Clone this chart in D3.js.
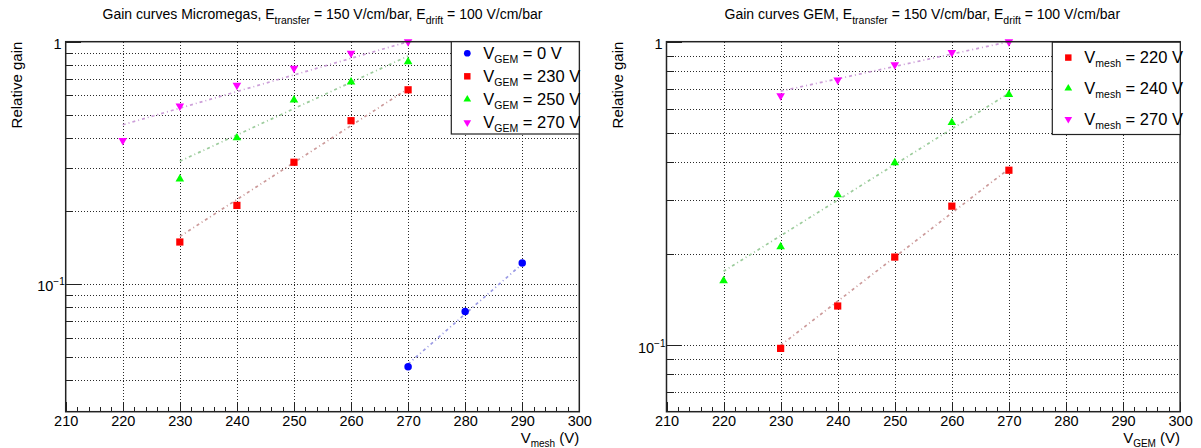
<!DOCTYPE html>
<html>
<head>
<meta charset="utf-8">
<script src="https://cdn.jsdelivr.net/npm/d3@7"></script>
<style>
  body { margin: 0; background: #fff; }
  text { font-family: "Liberation Sans", Arial, sans-serif; fill: #000; white-space: pre; }
</style>
</head>
<body>
<svg id="chart"></svg>
<script>
var W = 1201, H = 448;

// x axis (both pads)
var xDomain = [210, 300];
var xMajorTicks = [210, 220, 230, 240, 250, 260, 270, 280, 290, 300];

// left pad: Micromegas gain vs V_mesh, one series per V_GEM
var mmLegend = ["0 V", "230 V", "250 V", "270 V"];
var mmX0 = [270, 280, 290];
var mmGain0 = [0.0455, 0.0769, 0.122];
var mmX230 = [230, 240, 250, 260, 270];
var mmGain230 = [0.149, 0.211, 0.318, 0.472, 0.633];
var mmX250 = [230, 240, 250, 260, 270];
var mmGain250 = [0.271, 0.401, 0.575, 0.682, 0.827];
var mmX270 = [220, 230, 240, 250, 260, 270];
var mmGain270 = [0.391, 0.543, 0.661, 0.777, 0.896, 1.0];
// fitted exponentials, value at first and last point
var mmFit0 = [0.0467, 0.121];
var mmFit230 = [0.157, 0.64];
var mmFit250 = [0.321, 0.873];
var mmFit270 = [0.454, 1.0];

// right pad: GEM gain vs V_GEM, one series per V_mesh
var gemLegend = ["220 V", "240 V", "270 V"];
var gemX220 = [230, 240, 250, 260, 270];
var gemGain220 = [0.0975, 0.1345, 0.195, 0.287, 0.377];
var gemX240 = [220, 230, 240, 250, 260, 270];
var gemGain240 = [0.163, 0.211, 0.313, 0.399, 0.541, 0.67];
var gemX270 = [230, 240, 250, 260, 270];
var gemGain270 = [0.663, 0.748, 0.839, 0.921, 1.0];
var gemFit220 = [0.0998, 0.381];
var gemFit240 = [0.175, 0.676];
var gemFit270 = [0.687, 1.0];

var svg = d3.select("#chart").attr("width", W).attr("height", H);

var panels = [
  {
    offset: 0,
    yMin: 0.0297,
    title: [["Gain curves Micromegas, E"], ["transfer", "sub"], [" = 150 V/cm/bar, E"], ["drift", "sub"], [" = 100 V/cm/bar"]],
    titleX: 322.5,
    xSub: "mesh",
    legSub: "GEM",
    legend: mmLegend,
    legendBox: [451.3, 41.7, 128, 92.3],
    series: [
      { x: mmX0, y: mmGain0, fit: mmFit0, shape: "circle", color: "#0000ff", fitColor: "#9a9ae4" },
      { x: mmX230, y: mmGain230, fit: mmFit230, shape: "square", color: "#ff0000", fitColor: "#cc9a9a" },
      { x: mmX250, y: mmGain250, fit: mmFit250, shape: "up", color: "#00ff00", fitColor: "#9ccc9c" },
      { x: mmX270, y: mmGain270, fit: mmFit270, shape: "down", color: "#ff00ff", fitColor: "#cc9ed8" }
    ]
  },
  {
    offset: 600.8,
    yMin: 0.0603,
    title: [["Gain curves GEM, E"], ["transfer", "sub"], [" = 150 V/cm/bar, E"], ["drift", "sub"], [" = 100 V/cm/bar"]],
    titleX: 321.5,
    xSub: "GEM",
    legSub: "mesh",
    legend: gemLegend,
    legendBox: [451.5, 42.2, 128, 92.3],
    series: [
      { x: gemX220, y: gemGain220, fit: gemFit220, shape: "square", color: "#ff0000", fitColor: "#cc9a9a" },
      { x: gemX240, y: gemGain240, fit: gemFit240, shape: "up", color: "#00ff00", fitColor: "#9ccc9c" },
      { x: gemX270, y: gemGain270, fit: gemFit270, shape: "down", color: "#ff00ff", fitColor: "#cc9ed8" }
    ]
  }
];

function symbolFor(shape, scale) {
  var s = scale || 1;
  if (shape === "circle") return d3.symbol().type(d3.symbolCircle).size(44 * s)();
  if (shape === "square") return d3.symbol().type(d3.symbolSquare).size(52 * s)();
  return d3.symbol().type(d3.symbolTriangle).size(32 * s)();
}

// text with sub/superscript parts: [[string, "sub"|"sup"|undefined], ...]
function richText(sel, parts, size, smallSize, shift) {
  var prev = 0;
  parts.forEach(function (p) {
    var off = p[1] === "sub" ? shift : p[1] === "sup" ? -shift : 0;
    sel.append("tspan")
      .attr("dy", off - prev)
      .style("font-size", (p[1] ? smallSize : size) + "px")
      .text(p[0]);
    prev = off;
  });
}

function drawPanel(p) {
  var g = svg.append("g").attr("transform", "translate(" + p.offset + ",0)");
  var x = d3.scaleLinear().domain(xDomain).range([65.7, 579.3]);
  var y = d3.scaleLog().domain([p.yMin, 1]).range([411.7, 41.7]);

  var yMajor = [0.1, 1];
  var yMinor = [];
  [0.01, 0.1].forEach(function (dec) {
    for (var k = 2; k <= 9; k++) {
      var v = k * dec;
      if (v > p.yMin && v < 1) yMinor.push(v);
    }
  });
  var xMinor = d3.range(212, 300, 2).filter(function (v) { return v % 10 !== 0; });

  // grid
  var grid = g.append("g")
    .attr("stroke", "#2a2a2a")
    .attr("stroke-width", 1)
    .attr("stroke-dasharray", "1,2")
    .attr("shape-rendering", "crispEdges");
  grid.selectAll("line.gx")
    .data(xMajorTicks.slice(1, -1))
    .enter()
    .append("line")
    .attr("x1", function (d) { return Math.round(x(d)) + 0.5; })
    .attr("x2", function (d) { return Math.round(x(d)) + 0.5; })
    .attr("y1", y.range()[0])
    .attr("y2", y.range()[1]);
  grid.selectAll("line.gy")
    .data(yMinor.concat([0.1]))
    .enter()
    .append("line")
    .attr("y1", function (d) { return Math.round(y(d)) + 0.5; })
    .attr("y2", function (d) { return Math.round(y(d)) + 0.5; })
    .attr("x1", x.range()[0])
    .attr("x2", x.range()[1]);

  // fits
  p.series.forEach(function (s) {
    var pts = [[s.x[0], s.fit[0]], [s.x[s.x.length - 1], s.fit[1]]];
    g.append("path")
      .attr("d", d3.line().x(function (d) { return x(d[0]); }).y(function (d) { return y(d[1]); })(pts))
      .attr("fill", "none")
      .attr("stroke", s.fitColor)
      .attr("stroke-width", 1.7)
      .attr("stroke-dasharray", "3,3,1,3");
  });

  // markers
  p.series.forEach(function (s) {
    g.append("g")
      .selectAll("path")
      .data(s.x.map(function (v, i) { return [v, s.y[i]]; }))
      .enter()
      .append("path")
      .attr("d", symbolFor(s.shape))
      .attr("fill", s.color)
      .attr("transform", function (d) {
        return "translate(" + x(d[0]) + "," + y(d[1]) + ")" + (s.shape === "down" ? " rotate(180)" : "");
      });
  });

  // x axis: ticks inside the frame
  var xAxis = g.append("g").attr("transform", "translate(0," + y.range()[0] + ")");
  xAxis.call(d3.axisBottom(x).tickValues(xMajorTicks).tickSize(-10).tickPadding(4).tickFormat(d3.format("d")));
  xAxis.selectAll("text").style("font-size", "14.5px").attr("fill", "#000");
  xAxis.append("g").call(d3.axisBottom(x).tickValues(xMinor).tickSize(-5).tickFormat(""));
  xAxis.selectAll(".domain").remove();
  xAxis.selectAll("line").attr("stroke", "#222").attr("shape-rendering", "crispEdges");

  // y axis: major ticks with labels 1 and 10^-1, then minor ticks
  var yAxis = g.append("g").attr("transform", "translate(" + x.range()[0] + ",0)");
  yAxis.call(d3.axisLeft(y).tickValues(yMajor).tickSize(-15).tickPadding(3).tickFormat(function (d) { return d; }));
  yAxis.selectAll("text")
    .attr("fill", "#000")
    .attr("dy", null)
    .attr("y", 7)
    .each(function (d) {
      var t = d3.select(this).text("");
      if (d === 1) {
        t.attr("x", -4);
        richText(t, [["1"]], 14.5, 10, 6);
      } else {
        t.attr("x", -1);
        richText(t, [["10"], ["\u22121", "sup"]], 14.5, 10, 6);
      }
    });
  yAxis.append("g").call(d3.axisLeft(y).tickValues(yMinor).tickSize(-7.6).tickFormat(""));
  yAxis.selectAll(".domain").remove();
  yAxis.selectAll("line").attr("stroke", "#222").attr("shape-rendering", "crispEdges");

  // frame
  g.append("rect")
    .attr("x", x.range()[0])
    .attr("y", y.range()[1])
    .attr("width", x.range()[1] - x.range()[0])
    .attr("height", y.range()[0] - y.range()[1])
    .attr("fill", "none")
    .attr("stroke", "#222")
    .attr("stroke-width", 1.5);

  // titles
  var title = g.append("text")
    .attr("x", p.titleX)
    .attr("y", 18.5)
    .attr("text-anchor", "middle");
  richText(title, p.title, 14, 10.5, 5);

  var xTitle = g.append("text")
    .attr("x", x.range()[1])
    .attr("y", 443)
    .attr("text-anchor", "end");
  richText(xTitle, [["V"], [p.xSub, "sub"], [" (V)"]], 15, 10, 3.5);

  g.append("text")
    .attr("transform", "translate(22," + y.range()[1] + ") rotate(-90)")
    .attr("text-anchor", "end")
    .style("font-size", "15px")
    .text("Relative gain");

  // legend
  var lb = p.legendBox;
  var leg = g.append("g");
  leg.append("rect")
    .attr("x", lb[0])
    .attr("y", lb[1])
    .attr("width", lb[2])
    .attr("height", lb[3])
    .attr("fill", "#fff")
    .attr("stroke", "#222")
    .attr("stroke-width", 1.2);
  var rowH = lb[3] / p.legend.length;
  p.series.forEach(function (s, i) {
    var cy = lb[1] + rowH * (i + 0.5);
    leg.append("path")
      .attr("d", symbolFor(s.shape, 0.8))
      .attr("fill", s.color)
      .attr("transform", "translate(" + (lb[0] + 16) + "," + cy + ")" + (s.shape === "down" ? " rotate(180)" : ""));
    var t = leg.append("text")
      .attr("x", lb[0] + 32)
      .attr("y", cy + 5.8);
    richText(t, [["V"], [p.legSub, "sub"], [" = " + p.legend[i]]], 16.5, 10.5, 3.8);
  });
}

panels.forEach(drawPanel);
</script>
</body>
</html>
